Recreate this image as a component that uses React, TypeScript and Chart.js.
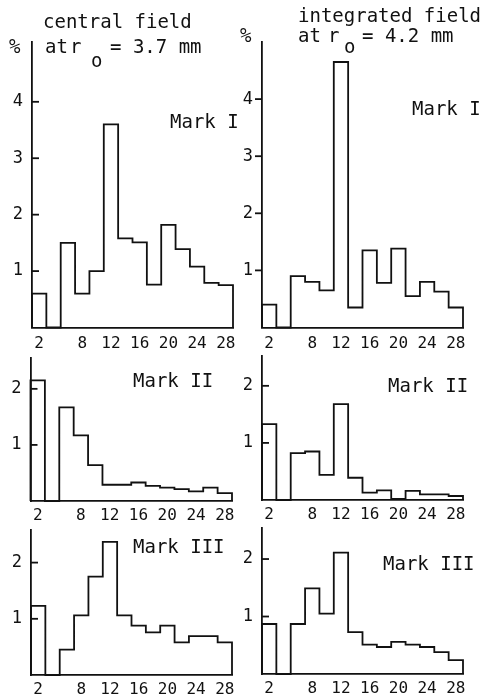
import React, { useEffect, useRef } from "react";
import { Chart, registerables } from "chart.js";

Chart.register(...registerables);

// ---- data ----
const harmonics = [2, 4, 6, 8, 10, 12, 14, 16, 18, 20, 22, 24, 26, 28];
const xTickLabels = [2, 8, 12, 16, 20, 24, 28];
const yTicksUpper = [1, 2, 3, 4];
const yTicksLower = [1, 2];

const centralMarkI = [0.6, 0, 1.5, 0.6, 1.0, 3.6, 1.58, 1.51, 0.76, 1.82, 1.39, 1.08, 0.79, 0.75];
const integratedMarkI = [0.4, 0, 0.9, 0.8, 0.65, 4.65, 0.35, 1.35, 0.78, 1.38, 0.55, 0.8, 0.63, 0.35];
const centralMarkII = [2.15, 0, 1.67, 1.17, 0.64, 0.29, 0.29, 0.33, 0.27, 0.24, 0.21, 0.17, 0.24, 0.14];
const integratedMarkII = [1.33, 0, 0.82, 0.85, 0.44, 1.68, 0.39, 0.13, 0.17, 0.02, 0.16, 0.1, 0.1, 0.07];
const centralMarkIII = [1.23, 0, 0.45, 1.06, 1.75, 2.37, 1.06, 0.88, 0.76, 0.88, 0.58, 0.69, 0.69, 0.58];
const integratedMarkIII = [0.87, 0, 0.87, 1.49, 1.05, 2.11, 0.73, 0.51, 0.47, 0.56, 0.51, 0.47, 0.38, 0.24];

// ---- style ----
const INK = "#111111";
const MONO = "'DejaVu Sans Mono', 'Liberation Mono', monospace";
const LW = 1.8;

type TextItem = { t: string; x: number; y: number; size?: number };
type Panel = {
  values: number[];
  yTicks: number[];
  yMax: number;
  left: number;
  top: number;
  width: number;
  height: number;
  axisX: number;
  dataRight: number;
  axisTop: number;
  baseline: number;
  tickDir: number;
  xPad: number;
  texts: TextItem[];
};

const panels: Panel[] = [
  {
    values: centralMarkI, yTicks: yTicksUpper, yMax: 5.06,
    left: 0, top: 0, width: 240, height: 355,
    axisX: 32, dataRight: 233, axisTop: 42, baseline: 327.5, tickDir: 1, xPad: 7,
    texts: [
      { t: "central field", x: 43, y: 28 },
      { t: "%", x: 9, y: 53 },
      { t: "at", x: 45, y: 53 },
      { t: "r", x: 70, y: 53 },
      { t: "o", x: 91, y: 67 },
      { t: "= 3.7 mm", x: 110, y: 53 },
      { t: "Mark I", x: 170, y: 128 },
    ],
  },
  {
    values: integratedMarkI, yTicks: yTicksUpper, yMax: 5.0,
    left: 240, top: 0, width: 240, height: 355,
    axisX: 262, dataRight: 463, axisTop: 42, baseline: 327.5, tickDir: -1, xPad: 7,
    texts: [
      { t: "integrated field", x: 298, y: 22 },
      { t: "%", x: 240, y: 42 },
      { t: "at", x: 298, y: 42 },
      { t: "r", x: 328, y: 42 },
      { t: "o", x: 344, y: 53 },
      { t: "= 4.2 mm", x: 362, y: 42 },
      { t: "Mark I", x: 412, y: 115 },
    ],
  },
  {
    values: centralMarkII, yTicks: yTicksLower, yMax: 2.55,
    left: 0, top: 355, width: 240, height: 170,
    axisX: 30.5, dataRight: 232, axisTop: 358, baseline: 501, tickDir: 1, xPad: 5,
    texts: [{ t: "Mark II", x: 133, y: 387 }],
  },
  {
    values: integratedMarkII, yTicks: yTicksLower, yMax: 2.54,
    left: 240, top: 355, width: 240, height: 170,
    axisX: 262, dataRight: 463, axisTop: 353, baseline: 500, tickDir: 1, xPad: 5,
    texts: [{ t: "Mark II", x: 388, y: 392 }],
  },
  {
    values: centralMarkIII, yTicks: yTicksLower, yMax: 2.58,
    left: 0, top: 525, width: 240, height: 171,
    axisX: 31, dataRight: 232, axisTop: 530, baseline: 675, tickDir: 1, xPad: 5,
    texts: [{ t: "Mark III", x: 133, y: 553 }],
  },
  {
    values: integratedMarkIII, yTicks: yTicksLower, yMax: 2.54,
    left: 240, top: 525, width: 240, height: 171,
    axisX: 262, dataRight: 463, axisTop: 528, baseline: 674, tickDir: 1, xPad: 5,
    texts: [{ t: "Mark III", x: 383, y: 570 }],
  },
];

function stepPoints(values: number[]) {
  const pts: { x: number; y: number }[] = [];
  pts.push({ x: harmonics[0] - 1, y: 0 });
  values.forEach((v, i) => {
    pts.push({ x: harmonics[i] - 1, y: v });
    pts.push({ x: harmonics[i] + 1, y: v });
  });
  pts.push({ x: harmonics[harmonics.length - 1] + 1, y: 0 });
  return pts;
}

function PanelChart({ p }: { p: Panel }) {
  const ref = useRef<HTMLCanvasElement | null>(null);
  useEffect(() => {
    if (!ref.current) return;
    const overlay = {
      id: "overlay",
      afterDraw(chart: any) {
        const ctx = chart.ctx;
        const ys = chart.scales.y;
        const area = chart.chartArea;
        ctx.save();
        ctx.strokeStyle = INK;
        ctx.lineWidth = LW;
        p.yTicks.forEach((v) => {
          const y = ys.getPixelForValue(v);
          ctx.beginPath();
          ctx.moveTo(area.left, y);
          ctx.lineTo(area.left + p.tickDir * 7, y);
          ctx.stroke();
        });
        ctx.fillStyle = INK;
        ctx.textBaseline = "alphabetic";
        ctx.textAlign = "left";
        p.texts.forEach((tx) => {
          ctx.font = `${tx.size || 19}px ${MONO}`;
          ctx.fillText(tx.t, tx.x - p.left, tx.y - p.top);
        });
        ctx.restore();
      },
    };
    const chart = new Chart(ref.current, {
      type: "line",
      data: {
        datasets: [
          {
            data: stepPoints(p.values),
            borderColor: INK,
            borderWidth: LW,
            pointRadius: 0,
            tension: 0,
            fill: false,
            clip: false as any,
          },
        ],
      },
      options: {
        animation: false,
        responsive: false,
        devicePixelRatio: 1,
        events: [],
        layout: {
          padding: {
            top: p.axisTop - p.top,
            right: p.left + p.width - p.dataRight,
            left: 0,
            bottom: 0,
          },
        },
        plugins: { legend: { display: false }, tooltip: { enabled: false } },
        scales: {
          x: {
            type: "linear",
            min: 1,
            max: 29,
            afterBuildTicks: (s: any) => {
              s.ticks = xTickLabels.map((v) => ({ value: v }));
            },
            afterFit: (s: any) => {
              s.height = p.top + p.height - p.baseline;
              s.paddingLeft = 0;
              s.paddingRight = 0;
            },
            grid: { display: false, drawTicks: false },
            border: { display: true, color: INK, width: LW },
            ticks: {
              autoSkip: false,
              maxRotation: 0,
              padding: p.xPad,
              color: INK,
              font: { family: MONO, size: 16 },
            },
          },
          y: {
            type: "linear",
            min: 0,
            max: p.yMax,
            afterBuildTicks: (s: any) => {
              s.ticks = p.yTicks.map((v) => ({ value: v }));
            },
            afterFit: (s: any) => {
              s.width = p.axisX - p.left;
              s.paddingTop = 0;
              s.paddingBottom = 0;
            },
            grid: { display: false, drawTicks: false },
            border: { display: true, color: INK, width: LW },
            ticks: {
              padding: 9,
              color: INK,
              font: { family: MONO, size: 17 },
            },
          },
        },
      },
      plugins: [overlay],
    } as any);
    return () => chart.destroy();
  }, [p]);
  return (
    <canvas
      ref={ref}
      width={p.width}
      height={p.height}
      style={{
        position: "absolute",
        left: p.left,
        top: p.top,
        width: p.width,
        height: p.height,
      }}
    />
  );
}

export default function App() {
  return (
    <div
      style={{
        position: "absolute",
        left: 0,
        top: 0,
        width: 480,
        height: 696,
        background: "#ffffff",
        overflow: "hidden",
      }}
    >
      {panels.map((p, i) => (
        <PanelChart key={i} p={p} />
      ))}
    </div>
  );
}
